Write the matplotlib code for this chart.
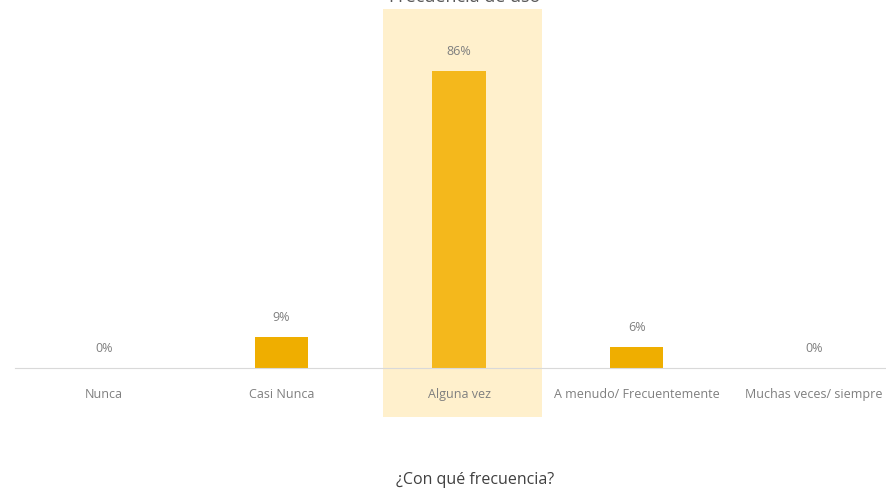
import matplotlib
matplotlib.use("Agg")
import matplotlib.pyplot as plt
from matplotlib.patches import Rectangle

categorias = ["Nunca", "Casi Nunca", "Alguna vez", "A menudo/ Frecuentemente", "Muchas veces/ siempre"]
porcentajes = [0, 9, 86, 6, 0]
destacado = 2

plt.rcParams['font.family'] = ['Open Sans', 'DejaVu Sans']

fig = plt.figure(figsize=(8.87, 4.89), dpi=100)
ax = fig.add_axes([15 / 887, 1 - 369 / 489, 888 / 887, 359 / 489])

x = list(range(len(categorias)))
colores = ["#F4B81C" if i == destacado else "#EFAE00" for i in x]
barras = ax.bar(x, porcentajes, width=0.3, color=colores, zorder=2)

# franja de resaltado detrás de la categoría principal
ax.add_patch(Rectangle((destacado - 0.43, -14.2), 0.9, 118.2, facecolor="#FFF0CC",
                       edgecolor="none", clip_on=False, zorder=0))

for xi, v in zip(x, porcentajes):
    ax.text(xi, v + 4.0, f"{v}%", ha="center", va="bottom", fontsize=9, color="#7F7F7F")

ax.set_xlim(-0.5, 4.5)
ax.set_ylim(0, 104)
ax.set_yticks([])
ax.set_xticks(x)
ax.set_xticklabels(categorias, fontsize=9, color="#7F7F7F")
ax.tick_params(axis="x", length=0, pad=14)
for s in ["top", "right", "left"]:
    ax.spines[s].set_visible(False)
ax.spines["bottom"].set_color("#D9D9D9")
ax.set_facecolor("none")

fig.text(465 / 887, 1 - 2 / 489, "Frecuencia de uso", ha="center", va="baseline",
         fontsize=13, color="#595959")
fig.text(475 / 887, 1 - 480 / 489, "¿Con qué frecuencia?", ha="center", va="center",
         fontsize=11.5, color="#404040")

fig.savefig("out.png", dpi=100)
